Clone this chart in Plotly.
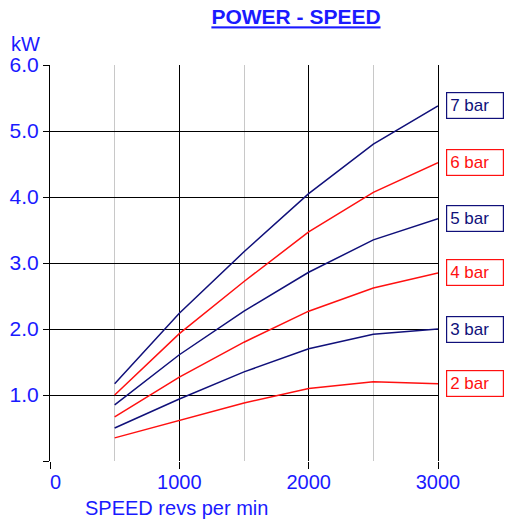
import plotly.graph_objects as go

speed = [500, 1000, 1500, 2000, 2500, 3000]
series_names = ["7 bar", "6 bar", "5 bar", "4 bar", "3 bar", "2 bar"]
p7 = [1.17, 2.24, 3.17, 4.05, 4.80, 5.38]
p6 = [1.00, 1.93, 2.72, 3.47, 4.07, 4.52]
p5 = [0.85, 1.61, 2.27, 2.86, 3.35, 3.67]
p4 = [0.67, 1.27, 1.80, 2.27, 2.62, 2.85]
p3 = [0.50, 0.94, 1.35, 1.70, 1.92, 2.00]
p2 = [0.35, 0.62, 0.88, 1.10, 1.20, 1.17]
series_values = [p7, p6, p5, p4, p3, p2]
x_ticks = [0, 1000, 2000, 3000]
x_ticklabels = ["&nbsp;&nbsp;0", "1000", "2000", "3000"]
y_ticks = [1, 2, 3, 4, 5, 6]
y_ticklabels = ["1.0", "2.0", "3.0", "4.0", "5.0", "6.0"]

NAVY = "#10107a"
RED = "#ff1010"
BLUE = "#1a1aff"
colors = [NAVY, RED, NAVY, RED, NAVY, RED]
FONT = "Liberation Sans, Arial, sans-serif"

fig = go.Figure()
for name, vals, c in zip(series_names, series_values, colors):
    fig.add_trace(go.Scatter(x=speed, y=vals, mode="lines", name=name,
                             line=dict(color=c, width=1.5), showlegend=False))
    fig.add_annotation(x=speed[-1], y=vals[-1], text=name, showarrow=False,
                       xanchor="left", yanchor="middle", xshift=8,
                       font=dict(family=FONT, size=17, color=c),
                       bordercolor=c, borderwidth=1.2, borderpad=3,
                       width=50, align="left", bgcolor="white")

fig.update_layout(
    width=505, height=523,
    margin=dict(l=50, r=67, t=65, b=62, autoexpand=False),
    plot_bgcolor="white", paper_bgcolor="white",
    font=dict(family=FONT, color=BLUE, size=20),
    title=dict(text="<b><u>POWER - SPEED</u></b>", x=296 / 505, xanchor="center",
               y=1 - 17 / 523, yanchor="middle", font=dict(family=FONT, size=21, color=BLUE)),
    xaxis=dict(range=[0, 3000], tickvals=x_ticks, ticktext=x_ticklabels,
               ticks="outside", ticklen=7, ticklabelstandoff=-4,
               tickcolor="black", showgrid=True, gridcolor="black", gridwidth=1,
               minor=dict(dtick=500, tick0=0, showgrid=True, gridcolor="#c8c8c8", gridwidth=1),
               zeroline=False, showline=False, tickfont=dict(size=20, color=BLUE),
               fixedrange=True),
    yaxis=dict(range=[0, 6], tickvals=[0] + y_ticks, ticktext=[""] + y_ticklabels,
               ticks="outside", ticklen=6, tickcolor="black",
               showgrid=True, gridcolor="black", gridwidth=1, zeroline=False,
               showline=True, mirror=True, linecolor="black", linewidth=1.2,
               tickfont=dict(size=21, color=BLUE), fixedrange=True),
)
fig.add_annotation(xref="paper", yref="paper", x=0, y=1, xanchor="right", yanchor="middle",
                   xshift=-8, yshift=21, text="kW", showarrow=False,
                   font=dict(family=FONT, size=20, color=BLUE))
fig.add_annotation(xref="paper", yref="paper", x=33 / 388, y=0, xanchor="left", yanchor="middle",
                   yshift=-47, text="SPEED revs per min", showarrow=False,
                   font=dict(family=FONT, size=20, color=BLUE))

fig.write_html("out.html", config={"displayModeBar": False},
               post_script="document.body.style.margin='0';")
